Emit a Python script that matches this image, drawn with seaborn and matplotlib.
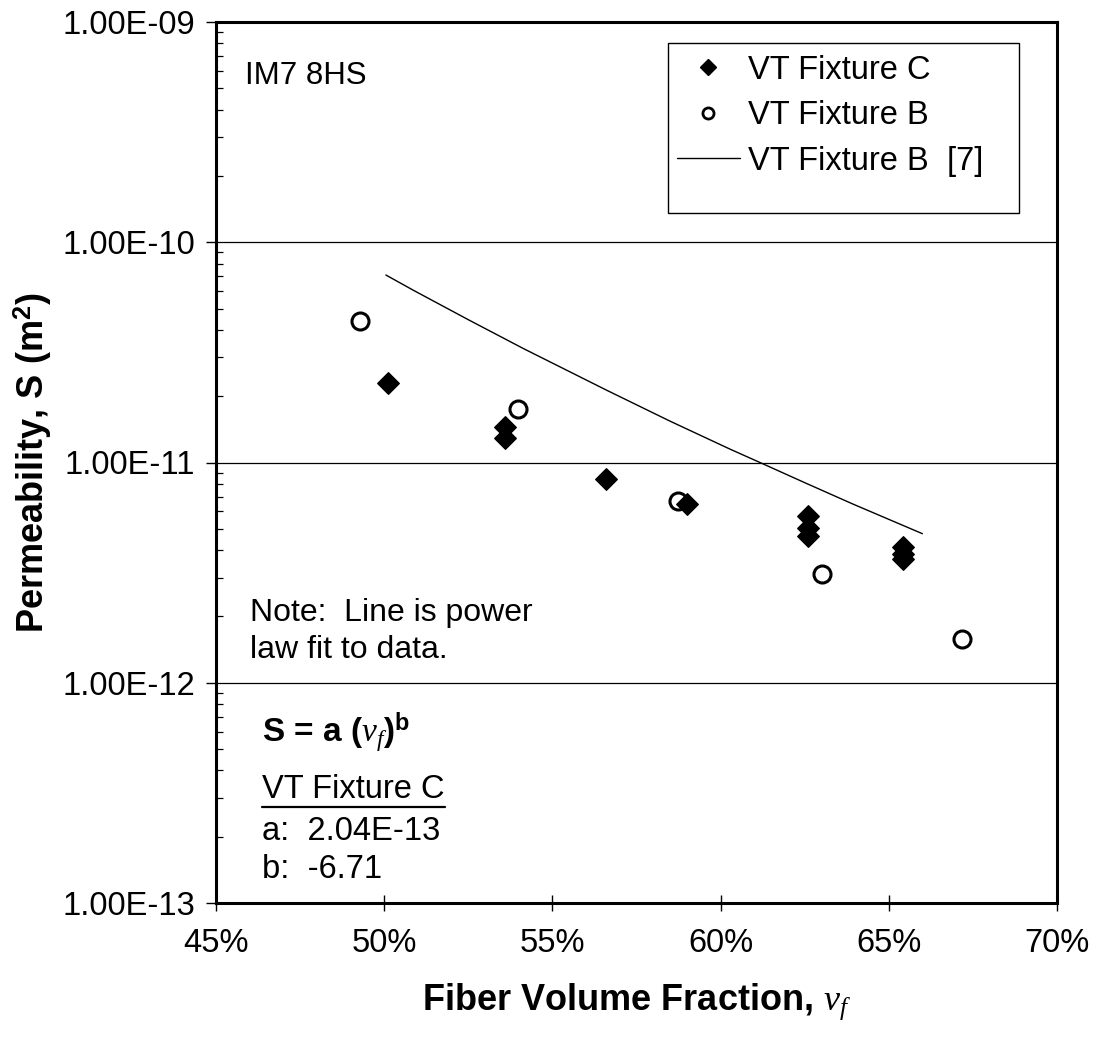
import matplotlib
matplotlib.use("Agg")
import matplotlib.pyplot as plt
import matplotlib.ticker as mticker
from matplotlib.lines import Line2D
from matplotlib.patches import Rectangle
import numpy as np
import pandas as pd
import seaborn as sns

# Measured permeability, VT Fixture C (fiber volume fraction, S in m^2)
fixture_c_vf = [0.5012, 0.5359, 0.5359, 0.5659, 0.5899, 0.6261, 0.6261, 0.6261, 0.6543, 0.6543, 0.6543]
fixture_c_s = [2.30e-11, 1.45e-11, 1.29e-11, 8.4e-12, 6.45e-12, 5.69e-12, 5.05e-12, 4.66e-12, 4.13e-12, 3.85e-12, 3.65e-12]

# Measured permeability, VT Fixture B
fixture_b_vf = [0.4928, 0.5397, 0.5872, 0.6302, 0.6717]
fixture_b_s = [4.37e-11, 1.75e-11, 6.72e-12, 3.12e-12, 1.58e-12]

# Power-law curve for VT Fixture B from reference [7]
ref7_vf = [0.5005, 0.5087, 0.5250, 0.5414, 0.5661, 0.5850, 0.6028, 0.6117, 0.6250, 0.6394, 0.6600]
ref7_s = [7.1e-11, 6.05e-11, 4.45e-11, 3.29e-11, 2.13e-11, 1.54e-11, 1.15e-11, 1.0e-11, 8.1e-12, 6.47e-12, 4.75e-12]

y_ticks = [1e-13, 1e-12, 1e-11, 1e-10, 1e-9]
x_ticks = [0.45, 0.50, 0.55, 0.60, 0.65, 0.70]

sns.set_theme(style="white")
plt.rcParams["font.family"] = ["Liberation Sans", "DejaVu Sans"]
plt.rcParams["text.color"] = "black"
plt.rcParams["axes.labelcolor"] = "black"
plt.rcParams["mathtext.fontset"] = "custom"
plt.rcParams["mathtext.rm"] = "Liberation Sans"
plt.rcParams["mathtext.bf"] = "Liberation Sans:bold"
plt.rcParams["mathtext.it"] = "Liberation Serif:italic"

df_c = pd.DataFrame({"vf": fixture_c_vf, "S": fixture_c_s})
df_b = pd.DataFrame({"vf": fixture_b_vf, "S": fixture_b_s})
df_r = pd.DataFrame({"vf": ref7_vf, "S": ref7_s})

W, H = 1097, 1041
AX_L, AX_R, AX_T, AX_B = 216, 1057, 22, 903
fig = plt.figure(figsize=(W / 100, H / 100), dpi=100)
ax = fig.add_axes([AX_L / W, 1 - AX_B / H, (AX_R - AX_L) / W, (AX_B - AX_T) / H])
ax.set_yscale("log")

sns.lineplot(data=df_r, x="vf", y="S", ax=ax, color="black", lw=1.0,
             sort=False, legend=False, zorder=3)
sns.scatterplot(data=df_c, x="vf", y="S", ax=ax, marker="D", s=120,
                color="black", edgecolor="black", linewidth=1.0, zorder=5, legend=False)
sns.scatterplot(data=df_b, x="vf", y="S", ax=ax, marker="o", s=150,
                facecolor="white", edgecolor="black", linewidth=2.2, zorder=4, legend=False)

ax.set_xlim(0.45, 0.70)
ax.set_ylim(1e-13, 1e-9)

# horizontal lines at each decade
for yv in y_ticks[1:-1]:
    ax.axhline(yv, color="black", lw=0.9, zorder=1)

ax.xaxis.set_major_locator(mticker.FixedLocator(x_ticks))
ax.xaxis.set_major_formatter(mticker.FuncFormatter(lambda v, p: f"{v*100:.0f}%"))
ax.yaxis.set_major_locator(mticker.FixedLocator(y_ticks))
ax.yaxis.set_major_formatter(mticker.FuncFormatter(lambda v, p: f"{v:.2E}"))
ax.yaxis.set_minor_locator(mticker.LogLocator(base=10, subs=np.arange(2, 10)))
ax.yaxis.set_minor_formatter(mticker.NullFormatter())

ax.tick_params(axis="x", which="major", direction="inout", length=12, width=1.0,
               labelsize=23.5, pad=12, colors="black", bottom=True)
ax.tick_params(axis="y", which="major", direction="out", length=7, width=1.0,
               labelsize=23.5, pad=8, colors="black", left=True)
ax.tick_params(axis="y", which="minor", direction="in", length=5, width=0.9,
               colors="black", left=True)

for side in ["left", "bottom", "top", "right"]:
    ax.spines[side].set_color("black")
    ax.spines[side].set_linewidth(2.2)

ax.set_xlabel(r"Fiber Volume Fraction, $\nu_f$", fontsize=26, fontweight="bold", labelpad=16)
ax.set_ylabel(r"Permeability, S (m$^{\mathbf{2}}$)", fontsize=26, fontweight="bold", labelpad=6)

handles = [
    Line2D([], [], marker="D", ls="none", color="black", markersize=8.5),
    Line2D([], [], marker="o", ls="none", markerfacecolor="white",
           markeredgecolor="black", markeredgewidth=2.0, markersize=8),
    Line2D([], [], color="black", lw=1.0),
]
labels = ["VT Fixture C", "VT Fixture B", "VT Fixture B  [7]"]

# legend entries without their own frame; the box is drawn separately below
leg = ax.legend(handles, labels, loc="upper left",
                bbox_to_anchor=(670 / W, 1 - 48 / H), bbox_transform=fig.transFigure,
                fontsize=23.5, frameon=False,
                handlelength=1.95, handletextpad=0.25, labelspacing=0.45,
                borderpad=0.2, borderaxespad=0.0)
for txt in leg.get_texts():
    txt.set_color("black")

fig.add_artist(Rectangle((668 / W, 1 - 213 / H), (1019 - 668) / W, (213 - 43) / H,
                         transform=fig.transFigure, facecolor="none",
                         edgecolor="black", lw=1.0, zorder=6))

# Annotation text inside the axes, positioned in figure pixels
def put(x_px, y_px, s, **kw):
    return fig.text(x_px / W, 1 - y_px / H, s, va="center", ha="left", color="black", **kw)

put(245, 76, "IM7 8HS", fontsize=22.5)
put(250, 613, "Note:  Line is power", fontsize=23)
put(250, 650, "law fit to data.", fontsize=23)
put(262, 733, r"S = a ($\nu_f$)$^{\mathbf{b}}$", fontsize=24, fontweight="bold")
t = put(262, 790, "VT Fixture C", fontsize=23.5)
put(262, 831, "a:  2.04E-13", fontsize=23.5)
put(262, 869, "b:  -6.71", fontsize=23.5)

# underline the fixture heading
fig.canvas.draw()
bb = t.get_window_extent()
fig.add_artist(Line2D([bb.x0 / W, bb.x1 / W], [(bb.y0 - 1) / H] * 2,
                      transform=fig.transFigure, color="black", lw=1.6))

fig.savefig("out.png", dpi=100, facecolor="white")
